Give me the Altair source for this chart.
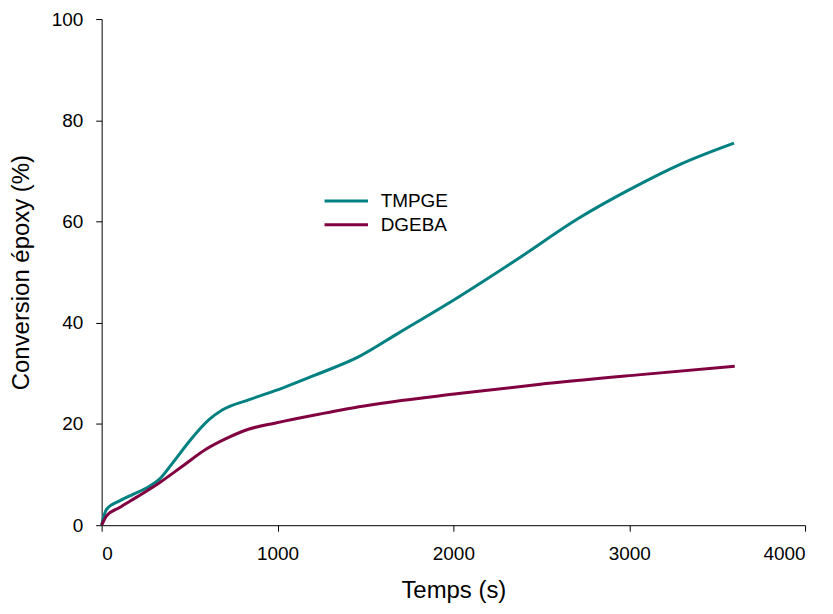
import altair as alt
import pandas as pd

t_tmpge = [0, 27, 102, 178, 272, 329, 404, 499, 612, 688, 839, 1028, 1217, 1463, 1690, 2030, 2370, 2710, 3012, 3296, 3596]
v_tmpge = [0, 3.1, 4.8, 6.1, 7.7, 9.1, 12.3, 16.6, 20.9, 22.8, 24.8, 27.1, 29.7, 33.3, 38.0, 45.1, 52.7, 60.6, 66.5, 71.4, 75.5]

t_dgeba = [0, 27, 102, 197, 329, 461, 593, 707, 839, 990, 1217, 1463, 2030, 2483, 3050, 3600]
v_dgeba = [0, 1.8, 3.5, 5.5, 8.4, 11.7, 15.0, 17.1, 19.0, 20.2, 21.8, 23.4, 26.0, 27.8, 29.7, 31.4]

series = ["TMPGE", "DGEBA"]
colors = ["#008080", "#800040"]

df = pd.concat([
    pd.DataFrame({"t": t_tmpge, "v": v_tmpge, "s": "TMPGE", "o": range(len(t_tmpge))}),
    pd.DataFrame({"t": t_dgeba, "v": v_dgeba, "s": "DGEBA", "o": range(len(t_dgeba))}),
])

font = "Liberation Sans"

common = dict(grid=False, tickSize=6,
              labelFontSize=19, titleFontSize=24, titleFontWeight="normal",
              labelFont=font, titleFont=font, domainColor="black", tickColor="black",
              labelColor="black", titleColor="black", format="d")

chart = alt.Chart(df).mark_line(strokeWidth=3, interpolate="monotone").encode(
    x=alt.X("t:Q", scale=alt.Scale(domain=[0, 4000], nice=False),
            axis=alt.Axis(title="Temps (s)", values=[0, 1000, 2000, 3000, 4000],
                          labelPadding=13, titlePadding=16, **common)),
    y=alt.Y("v:Q", scale=alt.Scale(domain=[0, 100], nice=False),
            axis=alt.Axis(title="Conversion époxy (%)", values=[0, 20, 40, 60, 80, 100],
                          labelPadding=13, titlePadding=18, **common)),
    color=alt.Color("s:N", scale=alt.Scale(domain=series, range=colors),
                    legend=alt.Legend(title=None, orient="none", legendX=233, legendY=170,
                                      symbolType="M-2,0H2", symbolSize=475, symbolStrokeWidth=3,
                                      labelFontSize=19, labelFont=font, labelColor="black",
                                      rowPadding=1, labelOffset=22)),
    order="o:Q",
).properties(
    width=706, height=508,
    autosize=alt.AutoSizeParams(type="none"),
    padding={"left": 94, "top": 10, "right": 20, "bottom": 80},
).configure_view(stroke=None)

chart.save("out.html", embed_options={"renderer": "svg", "actions": False})
